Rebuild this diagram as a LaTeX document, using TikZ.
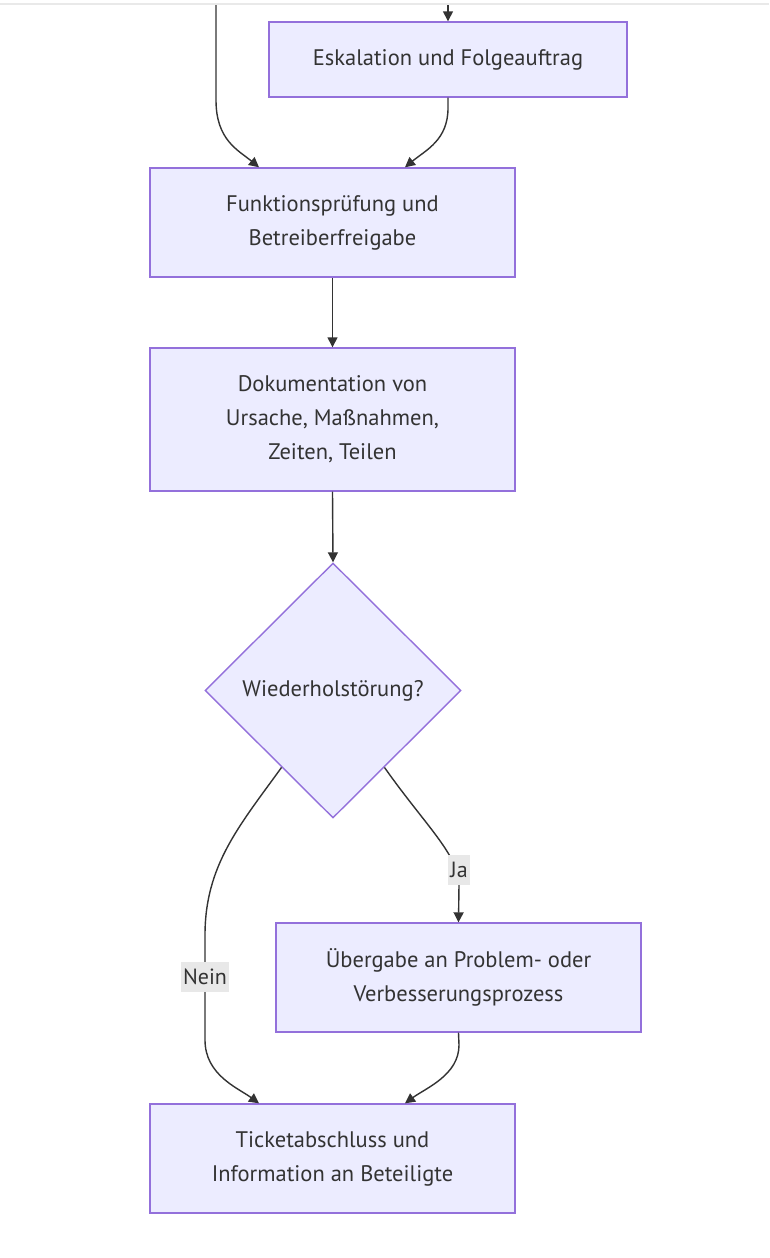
\documentclass[tikz,border=0pt]{standalone}
\usepackage{fontspec}
\setmainfont{PT Sans}
\usetikzlibrary{shapes.geometric,arrows.meta,calc}
\definecolor{boxfill}{HTML}{ECECFF}
\definecolor{boxline}{HTML}{9370DB}
\definecolor{edge}{HTML}{333333}
\definecolor{lblbg}{HTML}{E8E8E8}
\definecolor{topline}{HTML}{E9E9E9}
\tikzset{
  procbox/.style={draw=boxline, fill=boxfill, line width=1.4pt, inner sep=0pt,
    align=center, text=edge, font=\fontsize{22.5}{34}\selectfont},
  decbox/.style={draw=boxline, fill=boxfill, line width=1.4pt, shape=diamond,
    inner sep=0pt, minimum width=256pt, minimum height=255pt, aspect=1,
    text=edge, font=\fontsize{22.5}{34}\selectfont},
  conn/.style={draw=edge, line width=1.4pt, -{Triangle[length=10pt,width=10pt]}},
  elabel/.style={fill=lblbg, text=edge, inner sep=2pt, minimum height=30pt, font=\fontsize{22}{24}\selectfont}
}
\begin{document}
\begin{tikzpicture}[x=1pt,y=-1pt]
\useasboundingbox (0,0) rectangle (769,1258);
\fill[white] (0,0) rectangle (769,1258);
\draw[topline, line width=2pt] (0,4) -- (769,4);

\node[procbox, minimum width=358pt, minimum height=75pt] (esk) at (448,59.5) {Eskalation und Folgeauftrag};
\node[procbox, minimum width=365pt, minimum height=109pt] (fun) at (332.5,222.5) {Funktionsprüfung und\\Betreiberfreigabe};
\node[procbox, minimum width=365pt, minimum height=143pt] (dok) at (332.5,419.5) {Dokumentation von\\Ursache, Maßnahmen,\\Zeiten, Teilen};
\node[decbox] (wdh) at (333,690.5) {Wiederholstörung?};
\node[procbox, minimum width=365pt, minimum height=109pt] (ueb) at (458.5,977.5) {Übergabe an Problem- oder\\Verbesserungsprozess};
\node[procbox, minimum width=365pt, minimum height=109pt] (tic) at (332.5,1158.5) {Ticketabschluss und\\Information an Beteiligte};

\coordinate (in1) at (216,5);
\coordinate (in2) at (448,5);

\draw[conn] (in2) -- (esk.north);
\draw[conn] (in1) -- (216,100) .. controls (216,140) and (238,150) .. ([xshift=-73.5pt]fun.north);
\draw[conn] (esk.south) -- (448,108) .. controls (448,140) and (426,150) .. ([xshift=72.5pt]fun.north);
\draw[conn] (fun.south) -- (dok.north);
\draw[conn] (dok.south) -- (wdh.north);
\draw[conn] ($(wdh.west)!0.6!(wdh.south)$) .. controls (240,825) and (205,865) .. (205,935)
   -- (205,1040) .. controls (205,1075) and (238,1088) .. ([xshift=-73.5pt]tic.north);
\node[elabel] (nein) at (205,977) {Nein};
\draw[conn] ($(wdh.east)!0.6!(wdh.south)$) .. controls (425,825) and (459,855) .. (459,885) -- (ueb.north);
\node[elabel] (ja) at (459,870) {Ja};
\draw[conn] (ueb.south) -- (459,1045) .. controls (459,1075) and (426,1088) .. ([xshift=72.5pt]tic.north);
\end{tikzpicture}
\end{document}
